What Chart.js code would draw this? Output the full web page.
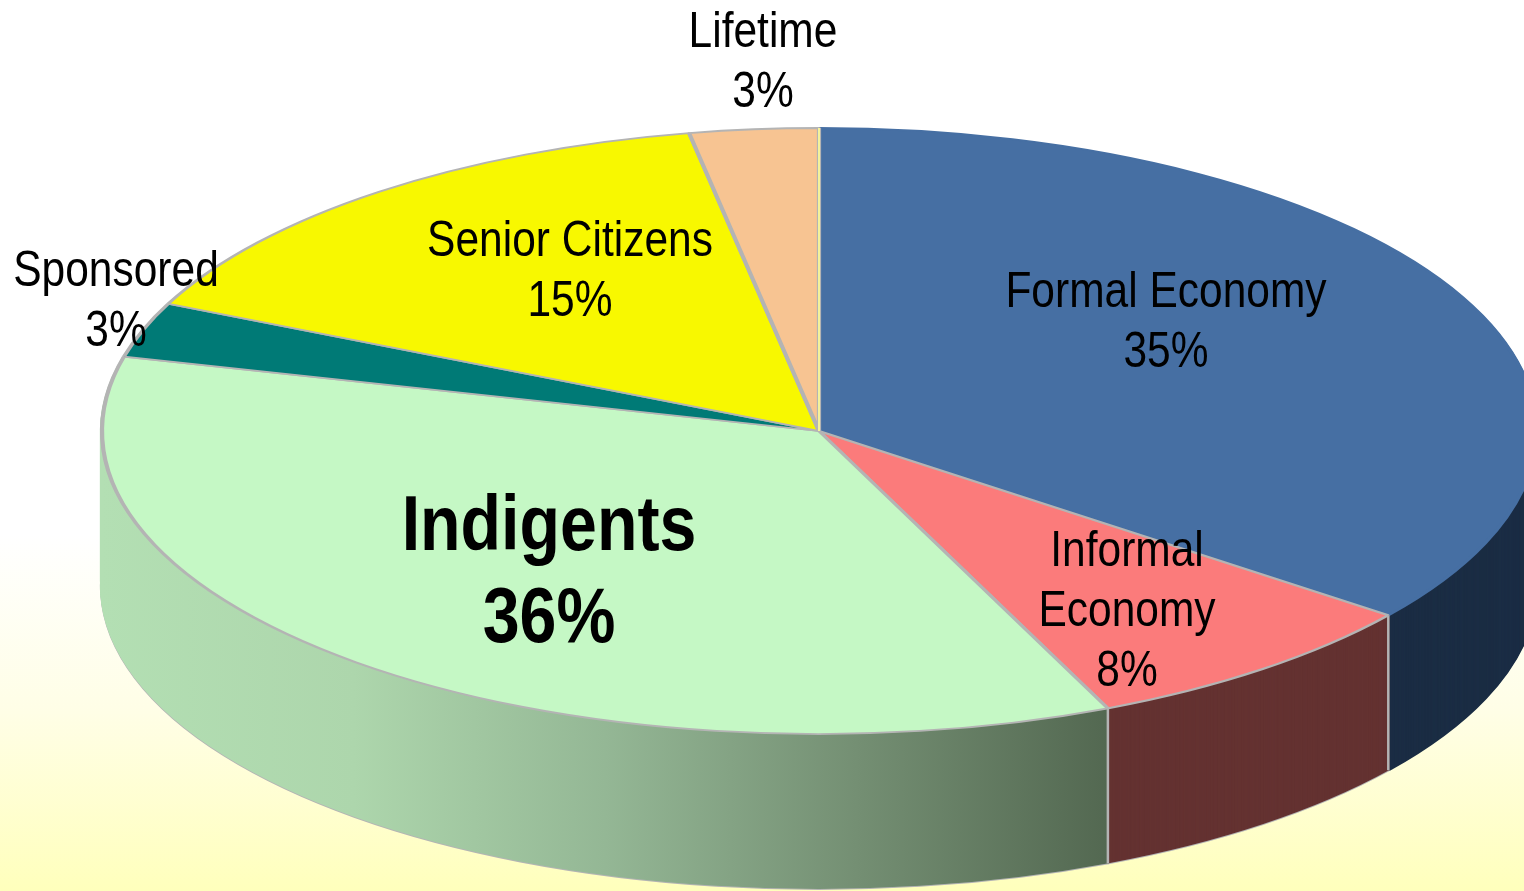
<!DOCTYPE html>
<html>
<head>
<meta charset="utf-8">
<title>Membership share</title>
<script src="https://cdn.jsdelivr.net/npm/chart.js@4/dist/chart.umd.min.js"></script>
<style>
    html, body { margin: 0; padding: 0; width: 1524px; height: 891px; overflow: hidden; }
    body { background: linear-gradient(180deg, #ffffff 0%, #ffffff 60%, #fffee6 80%, #ffffbc 100%); }
    canvas { display: block; }
</style>
</head>
<body>
<canvas id="pieChart" width="1524" height="891"></canvas>
<script>
const categories = ['Formal Economy', 'Informal\nEconomy', 'Indigents', 'Sponsored', 'Senior Citizens', 'Lifetime'];
// the printed labels are these rounded
const shares = [35.4, 8, 35.55, 2.95, 15.2, 2.9];
const topColors = ['#466FA3', '#FB7B7B', '#C5F8C5', '#007A76', '#F8F800', '#F7C492'];
const rimColors = ['#466FA3', '#B4B4B4', '#B4B4B4', '#B4B4B4', '#B4B4B4', '#B4B4B4'];
const wallColors = ['#1B2D44', '#643231', null, null, null, null];
const wallFade = ['#B3DFB3', '#ADD6AC', '#94B795', '#748F73', '#536851'];

// where the tilted pie sits on the page
const PIE_X = 819, PIE_Y = 431, RADIUS_X = 717, RADIUS_Y = 303, DEPTH = 155;

// label anchors, same order as categories
const labelX = [1166, 1127, 549, 116, 570, 763];
const labelY = [293, 552, 528, 272, 242, 33];
const SQUEEZE = 0.85;

function tilt(ctx, arc, drop) {
    ctx.translate(PIE_X, PIE_Y + drop);
    ctx.scale(RADIUS_X / arc.outerRadius, RADIUS_Y / arc.outerRadius);
    ctx.translate(-arc.x, -arc.y);
}

function greenFade(ctx, arc) {
    const sx = RADIUS_X / arc.outerRadius;
    const g = ctx.createLinearGradient(arc.x + (102 - PIE_X) / sx, 0, arc.x + (1108 - PIE_X) / sx, 0);
    wallFade.forEach((c, i) => g.addColorStop(i / (wallFade.length - 1), c));
    return g;
}

const tiltedPie = {
    id: 'tiltedPie',
    beforeDatasetsDraw(chart) {
        const ctx = chart.ctx;
        const arcs = chart.getDatasetMeta(0).data;
        const fade = greenFade(ctx, arcs[0]);

        // side wall: the same slices stacked from the bottom up
        for (let drop = DEPTH; drop >= 1; drop--) {
            arcs.forEach((arc, i) => {
                const color = i === 2 ? fade : wallColors[i];
                if (!color) return;
                const saved = arc.options;
                arc.options = {
                    ...saved,
                    backgroundColor: color,
                    borderColor: (drop === DEPTH && i !== 0) ? '#B4B4B4' : color
                };
                ctx.save();
                tilt(ctx, arc, drop);
                arc.draw(ctx);
                ctx.restore();
                arc.options = saved;
            });
        }

        // seams on the wall, below both ends of the red slice
        ctx.save();
        ctx.strokeStyle = '#B4B4B4';
        ctx.lineWidth = 2.5;
        [arcs[1].startAngle, arcs[1].endAngle].forEach((a) => {
            const x = PIE_X + RADIUS_X * Math.cos(a);
            const y = PIE_Y + RADIUS_Y * Math.sin(a);
            ctx.beginPath();
            ctx.moveTo(x, y);
            ctx.lineTo(x, y + DEPTH);
            ctx.stroke();
        });
        ctx.restore();

        ctx.save();
        tilt(ctx, arcs[0], 0);
    },
    afterDatasetsDraw(chart) {
        const ctx = chart.ctx;
        ctx.restore();

        // thin pale line where the pie starts
        const first = chart.getDatasetMeta(0).data[0];
        ctx.save();
        ctx.strokeStyle = '#F4F29A';
        ctx.lineWidth = 2;
        ctx.beginPath();
        ctx.moveTo(PIE_X, PIE_Y);
        ctx.lineTo(PIE_X + RADIUS_X * Math.cos(first.startAngle), PIE_Y + RADIUS_Y * Math.sin(first.startAngle));
        ctx.stroke();
        ctx.restore();

        // labels
        categories.forEach((name, i) => {
            const big = i === 2;
            const lines = name.split('\n').concat(Math.round(shares[i]) + '%');
            const step = big ? 92 : 60;
            ctx.save();
            ctx.fillStyle = '#000000';
            ctx.textAlign = 'center';
            ctx.textBaseline = 'middle';
            ctx.font = (big ? 'bold 78px' : '50px') + ' "Liberation Sans", Arial, sans-serif';
            ctx.translate(labelX[i], labelY[i]);
            ctx.scale(SQUEEZE, 1);
            lines.forEach((line, n) => ctx.fillText(line, 0, n * step));
            ctx.restore();
        });
    }
};

new Chart(document.getElementById('pieChart'), {
    type: 'pie',
    data: {
        labels: categories,
        datasets: [{
            data: shares,
            backgroundColor: topColors,
            borderColor: rimColors,
            borderWidth: 2.6,
            clip: false
        }]
    },
    options: {
        responsive: false,
        animation: false,
        events: [],
        plugins: {
            legend: { display: false },
            tooltip: { enabled: false }
        }
    },
    plugins: [tiltedPie]
});
</script>
</body>
</html>
